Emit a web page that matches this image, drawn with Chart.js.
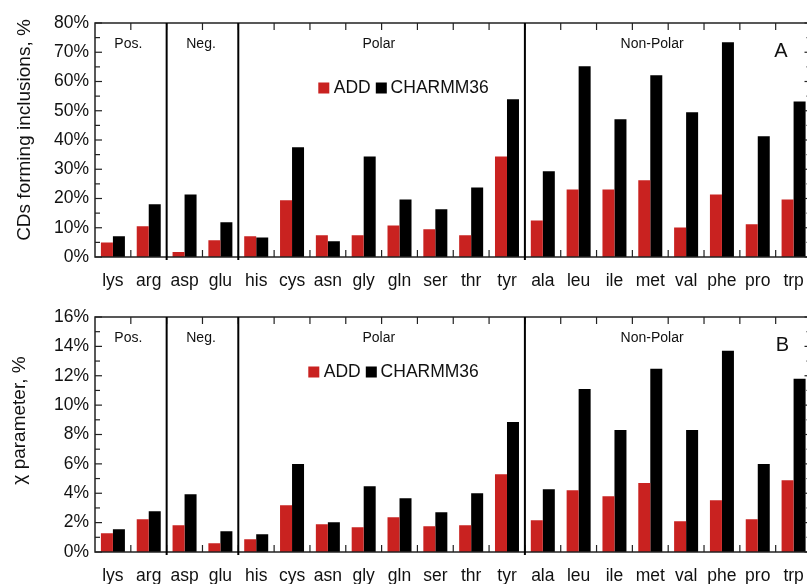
<!DOCTYPE html>
<html><head><meta charset="utf-8">
<script src="https://cdn.jsdelivr.net/npm/chart.js@4.4.0/dist/chart.umd.min.js"></script>
<style>
html,body{margin:0;padding:0;overflow:hidden;background:#fff;width:807px;height:584px;position:relative}
canvas{position:absolute;left:0}
</style></head><body>
<canvas id="a" width="815" height="292" style="top:0;width:815px;height:292px"></canvas>
<canvas id="b" width="815" height="292" style="top:292px;width:815px;height:292px"></canvas>
<script>
// ---- data ----
const categories = ['lys','arg','asp','glu','his','cys','asn','gly','gln','ser','thr','tyr','ala','leu','ile','met','val','phe','pro','trp'];
const seriesNames = ['ADD','CHARMM36'];
const inclusionsADD = [5.0,10.5,1.7,5.7,7.1,19.4,7.4,7.4,10.8,9.5,7.4,34.4,12.5,23.1,23.1,26.2,10.1,21.4,11.2,19.7];
const inclusionsCHARMM36 = [7.1,18.0,21.4,11.9,6.7,37.5,5.4,34.4,19.7,16.3,23.8,53.9,29.3,65.2,47.1,62.1,49.5,73.4,41.3,53.2];
const chiADD = [1.27,2.23,1.82,0.59,0.86,3.19,1.89,1.68,2.37,1.75,1.82,5.30,2.16,4.21,3.80,4.69,2.09,3.53,2.23,4.89];
const chiCHARMM36 = [1.55,2.78,3.94,1.41,1.21,5.99,2.03,4.48,3.66,2.71,4.00,8.85,4.28,11.10,8.31,12.47,8.31,13.70,5.99,11.79];
const groupNames = ['Pos.','Neg.','Polar','Non-Polar'];
const panelTitles = ['CDs forming inclusions, %','\u03C7 parameter, %'];
const panelLetters = ['A','B'];

// ---- style ----
const FONT = "'Liberation Sans', Arial, sans-serif";
const RED = '#c92220', BLACK = '#000000', TXT = '#111111';
const groupX = [0.93, 2.96, 7.92, 15.55];      // in category units from left
const dividerAt = [2, 4, 12];                    // category boundaries

const panelPlugin = {
  id: 'panel',
  afterDraw(chart, args, o) {
    const ctx = chart.ctx, ca = chart.chartArea, y = chart.scales.y;
    const L = ca.left, R = ca.right, T = ca.top, B = ca.bottom;
    const n = categories.length, cw = (R - L) / n;
    const line = (x1,y1,x2,y2) => { ctx.beginPath(); ctx.moveTo(x1,y1); ctx.lineTo(x2,y2); ctx.stroke(); };
    ctx.save();
    ctx.strokeStyle = '#222'; ctx.lineWidth = 1.5;
    ctx.strokeRect(L, T, R - L, B - T);
    ctx.lineWidth = 1.2;
    for (let i = 0; i <= Math.round(o.max / o.minor); i++) {
      const v = i * o.minor, py = y.getPixelForValue(v);
      const len = (i % 2 === 0) ? 7 : 5;
      line(L, py, L + len, py); line(R, py, R - len, py);
    }
    for (let k = 1; k < n; k++) {
      const px = L + k * cw;
      line(px, T, px, T + 7); line(px, B, px, B - 7);
    }
    ctx.strokeStyle = '#000'; ctx.lineWidth = 2;
    for (const k of dividerAt) { const px = L + k * cw; line(px, T, px, B + 3); }
    // group labels
    ctx.fillStyle = TXT; ctx.font = '14px ' + FONT; ctx.textAlign = 'center'; ctx.textBaseline = 'middle';
    groupNames.forEach((g, i) => ctx.fillText(g, L + groupX[i] * cw, T + 21));
    // legend
    ctx.font = '17.5px ' + FONT; ctx.textAlign = 'left';
    const lx = o.legendX, ly = o.legendY;
    ctx.fillStyle = RED; ctx.fillRect(lx, ly - 5.5, 11, 11);
    ctx.fillStyle = TXT; ctx.fillText(seriesNames[0], lx + 15.5, ly + 0.5);
    ctx.fillStyle = BLACK; ctx.fillRect(lx + 57.5, ly - 5.5, 11, 11);
    ctx.fillStyle = TXT; ctx.fillText(seriesNames[1], lx + 72.3, ly + 0.5);
    // panel letter
    ctx.font = '20px ' + FONT; ctx.textAlign = 'center';
    ctx.fillText(o.letter, o.letterX, o.letterY);
    // y title
    ctx.font = '19px ' + FONT; ctx.textBaseline = 'alphabetic';
    ctx.translate(o.titleX, o.titleY); ctx.rotate(-Math.PI / 2);
    ctx.fillText(o.title, 0, 0);
    ctx.restore();
  }
};

function makePanel(id, addVals, chVals, p) {
  return new Chart(document.getElementById(id), {
    type: 'bar',
    data: {
      labels: categories,
      datasets: [
        { label: seriesNames[0], data: addVals, backgroundColor: RED, borderWidth: 0 },
        { label: seriesNames[1], data: chVals, backgroundColor: BLACK, borderWidth: 0 }
      ]
    },
    options: {
      responsive: false, animation: false, devicePixelRatio: 1,
      categoryPercentage: 0.67, barPercentage: 1.0,
      layout: { padding: { top: p.top, right: 3.5, left: 0, bottom: 0 } },
      plugins: { legend: { display: false }, tooltip: { enabled: false },
        panel: p },
      scales: {
        x: {
          grid: { display: false, drawTicks: false }, border: { display: false },
          ticks: { color: TXT, font: { family: FONT, size: 17.5, lineHeight: 1.9 }, padding: 8, maxRotation: 0, autoSkip: false },
          afterFit: s => { s.height = p.xh; }
        },
        y: {
          min: 0, max: p.max,
          grid: { display: false, drawTicks: false }, border: { display: false },
          ticks: { stepSize: p.step, color: TXT, font: { family: FONT, size: 17.5 }, padding: 6,
                   callback: v => v + '%' },
          afterFit: s => { s.width = 95; }
        }
      }
    },
    plugins: [panelPlugin]
  });
}

makePanel('a', inclusionsADD, inclusionsCHARMM36,
  { top: 23, xh: 35, max: 80, step: 10, minor: 5, legendX: 318.3, legendY: 88,
    letter: panelLetters[0], letterX: 781, letterY: 51, title: panelTitles[0], titleX: 30, titleY: 130 });
makePanel('b', chiADD, chiCHARMM36,
  { top: 25, xh: 32, max: 16, step: 2, minor: 1, legendX: 308.3, legendY: 80,
    letter: panelLetters[1], letterX: 782.5, letterY: 53, title: panelTitles[1], titleX: 25, titleY: 128.5 });
</script>
</body></html>
